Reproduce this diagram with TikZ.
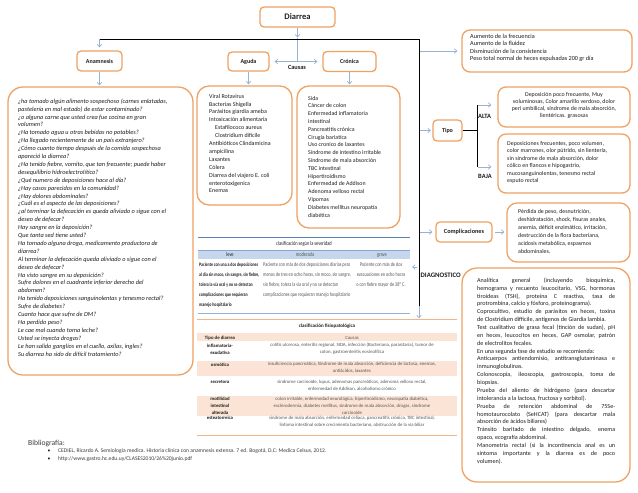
\documentclass[tikz,border=0pt]{standalone}
\usepackage{fontspec}
\setmainfont{Carlito}
\newfontfamily\narrowfont[FakeStretch=0.76]{Carlito}
\usetikzlibrary{arrows.meta,calc}
\definecolor{boxor}{RGB}{238,162,100}
\definecolor{garr}{RGB}{150,178,212}
\definecolor{txt}{RGB}{30,30,30}
\definecolor{tblblue}{RGB}{84,130,185}
\definecolor{tblhead}{RGB}{198,214,236}
\definecolor{peach}{RGB}{251,228,213}
\definecolor{tblor}{RGB}{244,178,134}
\definecolor{grtxt}{RGB}{85,85,85}
\definecolor{bibc}{RGB}{60,60,60}
\newcommand\jl[1]{\makebox[138pt][s]{#1}}
\tikzset{
  obox/.style={draw=boxor, line width=1.3pt, rounded corners=4pt, fill=white, inner sep=0pt},
  rbox/.style={draw=boxor, line width=1.3pt, rounded corners=#1, fill=white, inner sep=0pt},
  garrow/.style={draw=garr, line width=0.7pt, -{Straight Barb[length=2.5pt,width=4.5pt]}},
  gline/.style={draw=garr, line width=0.7pt},
  blk/.style={draw=black, line width=0.8pt},
  lbl/.style={font=\fontsize{6}{7}\selectfont\bfseries},
  body/.style={anchor=north west, align=left, font=\fontsize{6}{7.9}\selectfont},
  sevtxt/.style={anchor=north west, align=left, font=\narrowfont\fontsize{5.6}{10}\selectfont, text=grtxt},
  fistxt/.style={anchor=north, align=center, font=\fontsize{4.8}{7}\selectfont, text=grtxt},
  fistype/.style={align=center, font=\fontsize{4.8}{7}\selectfont\bfseries, text=txt},
}
\begin{document}
\begin{tikzpicture}[x=1pt,y=-1pt, every node/.style={inner sep=0pt, text=txt}]
\useasboundingbox (0,0) rectangle (638,493);
\fill[white] (0,0) rectangle (638,493);

% ---- top boxes
\node[obox, minimum width=75pt, minimum height=20pt, font=\fontsize{8.5}{10}\selectfont\bfseries] (diarrea) at (297.5,17) {Diarrea};
\node[obox, minimum width=45pt, minimum height=20pt, lbl] (anam) at (99.5,61) {Anamnesis};
\node[obox, minimum width=41pt, minimum height=19pt, lbl] (aguda) at (248.5,61.5) {Aguda};
\node[obox, minimum width=53pt, minimum height=20pt, lbl] (cronica) at (349.5,61.5) {Crónica};
\node[font=\fontsize{6.3}{7}\selectfont\bfseries, anchor=base] (causas) at (297,69) {Causas};

% ---- big boxes
\node[rbox=15pt, minimum width=185pt, minimum height=288pt] (preg) at (100.5,231) {};
\node[rbox=12pt, minimum width=95pt, minimum height=119pt] (agbox) at (244.5,145.5) {};
\node[rbox=12pt, minimum width=103pt, minimum height=142pt] (crbox) at (348.5,157) {};
\node[rbox=8pt, minimum width=170pt, minimum height=42pt] (aum) at (547,51) {};
\node[obox, minimum width=29pt, minimum height=21pt, lbl] (tipo) at (447.5,130.5) {Tipo};
\node[rbox=8pt, minimum width=132pt, minimum height=40pt] (alta) at (564,107) {};
\node[rbox=8pt, minimum width=132pt, minimum height=59pt] (baja) at (564,163.5) {};
\node[obox, minimum width=56pt, minimum height=20pt, font=\fontsize{6.2}{7}\selectfont\bfseries] (comp) at (464,232) {Complicaciones};
\node[rbox=10pt, minimum width=123pt, minimum height=59pt] (ctxt) at (568.5,232.5) {};
\node[rbox=15pt, minimum width=168pt, minimum height=214pt] (diag) at (546,375) {};

% ---- texts inside boxes
\node[body, font=\fontsize{6.3}{7.9}\selectfont\itshape] (pregtxt) at (18,98.4) {%
¿ha tomado algún alimento sospechoso (carnes enlatadas,\\
pastelería en mal estado) de estar contaminado?\\
¿o alguna carne que usted crea fue cocina en gran\\
volumen?\\
¿Ha tomado agua u otras bebidas no potables?\\
¿Ha llegado recientemente de un país extranjero?\\
¿Cómo cuanto tiempo después de la comida sospechosa\\
apareció la diarrea?\\
¿Ha tenido fiebre, vomito, que tan frecuente; puede haber\\
desequilibrio hidroelectrolítico?\\
¿Qué numero de deposiciones hace al día?\\
¿Hay casos parecidos en la comunidad?\\
¿Hay dolores abdominales?\\
¿Cuál es el aspecto de las deposiciones?\\
¿al terminar la defecación es queda aliviado o sigue con el\\
deseo de defecar?\\
Hay sangre en la deposición?\\
Que tanta sed tiene usted?\\
Ha tomado alguna droga, medicamento productora de\\
diarrea?\\
Al terminar la defecación queda aliviado o sigue con el\\
deseo de defecar?\\
Ha visto sangre en su deposición?\\
Sufre dolores en el cuadrante inferior derecho del\\
abdomen?\\
Ha tenido deposiciones sanguinolentas y tenesmo rectal?\\
Sufre de diabetes?\\
Cuanto hace que sufre de DM?\\
Ha perdido peso?\\
Le cae mal cuando toma leche?\\
Usted se inyecta drogas?\\
Le han salido ganglios en el cuello, axilas, ingles?\\
Su diarrea ha sido de difícil tratamiento?};

\node[body] (agtxt) at (209,93.8) {%
Viral Rotavirus\\
Bacterias Shigella\\
Parásitos giardia ameba\\
Intoxicación alimentaria\\
\hspace*{6pt}Estafilococo aureus\\
\hspace*{6pt}Clostridium dificile\\
Antibióticos Clindamicina\\
ampicilina\\
Laxantes\\
Cólera\\
Diarrea del viajero E. coli\\
enterotoxigenica\\
Enemas};

\node[body, font=\fontsize{5.9}{7.8}\selectfont] (crtxt) at (308,95.8) {%
Sida\\
Cáncer de colon\\
Enfermedad inflamatoria\\
intestinal\\
Pancreatitis crónica\\
Cirugía bariatica\\
Uso cronico de laxantes\\
Síndrome de intestino irritable\\
Síndrome de mala absorción\\
TBC intestinal\\
Hipertiroidismo\\
Enfermedad de Addison\\
Adenoma velloso rectal\\
Vipomas\\
Diabetes mellitus neuropatía\\
diabética};

\node[body, font=\fontsize{6.2}{7.6}\selectfont] (aumtxt) at (470,33.6) {%
Aumento de la frecuencia\\
Aumento de la fluidez\\
Disminución de la consistencia\\
Peso total normal de heces expulsadas 200 gr día};

\node[anchor=north, align=center, font=\fontsize{5.9}{7.3}\selectfont] (altatxt) at (564,91.8) {%
Deposición poco frecuente, Muy\\
voluminosas, Color amarillo verdoso, dolor\\
peri umbilical, síndrome de mala absorción,\\
lientéricas. grasosas};

\node[body, font=\fontsize{5.9}{7.5}\selectfont] (bajatxt) at (507,140.8) {%
Deposiciones frecuentes, poco volumen,\\
color marrones, olor pútrido, sin lientería,\\
sin síndrome de mala absorción, dolor\\
cólico en flancos e hipogastrio,\\
mucosanguinolentas, tenesmo rectal\\
esputo rectal};

\node[body, font=\fontsize{5.9}{8}\selectfont] (comptxt) at (518,208.8) {%
Pérdida de peso, desnutrición,\\
deshidratación, shock, fisuras anales,\\
anemia, déficit enzimático, irritación,\\
destrucción de la flora bacteriana,\\
acidosis metabólica, espasmos\\
abdominales.};

\node[body, font=\fontsize{6.1}{7.87}\selectfont] (diagtxt) at (477,277.6) {%
\jl{Analítica general (incluyendo bioquímica,}\\
\jl{hemograma y recuento leucocitario, VSG, hormonas}\\
\jl{tiroideas (TSH), proteína C reactiva, tasa de}\\
protrombina, calcio y fósforo, proteinograma).\\
\jl{Coprocultivo, estudio de parásitos en heces, toxina}\\
de Clostridium difficile, antígenos de Giardia lambia.\\
\jl{Test cualitativo de grasa fecal (tinción de sudan), pH}\\
\jl{en heces, leucocitos en heces, GAP osmolar, patrón}\\
de electrolitos fecales.\\
En una segunda fase de estudio se recomienda:\\
\jl{Anticuerpos antiendomisio, antitransglutaminasa e}\\
inmunoglobulinas.\\
\jl{Colonoscopia, ileoscopia, gastroscopia, toma de}\\
biopsias.\\
\jl{Prueba del aliento de hidrógeno (para descartar}\\
intolerancia a la lactosa, fructosa y sorbitol).\\
\jl{Prueba de retención abdominal de 75Se-}\\
\jl{homotaurocolato (SeHCAT) (para descartar mala}\\
absorción de ácidos biliares)\\
\jl{Tránsito baritado de intestino delgado, enema}\\
opaco, ecografía abdominal.\\
\jl{Manometría rectal (si la incontinencia anal es un}\\
\jl{síntoma importante y la diarrea es de poco}\\
volumen).};

% ---- labels
\node[font=\fontsize{6.5}{7}\selectfont\bfseries, anchor=base west] (altalbl) at (478,118) {ALTA};
\node[font=\fontsize{6.5}{7}\selectfont\bfseries, anchor=base west] (bajalbl) at (478,178) {BAJA};
\node[font=\fontsize{6.8}{7}\selectfont\bfseries, anchor=base west] (diaglbl) at (420.5,277) {DIAGNOSTICO};

% ---- severity table
\node[minimum width=212pt, minimum height=75pt] (sev) at (304,275.5) {};
\fill[tblhead] (198,250) rectangle (410,259);
\draw[tblblue, line width=0.8pt] (sev.north west) -- (sev.north east);
\draw[tblblue!70, line width=0.5pt] (198,250) -- (410,250);
\draw[garr, line width=0.8pt] (sev.south west) -- (sev.south east);
\node[font=\narrowfont\fontsize{5.8}{7}\selectfont, text=txt] (sevtitle) at (304,244.3) {clasificación según la severidad};
\node[font=\narrowfont\fontsize{5.8}{7}\selectfont, anchor=base] (hleve) at (230,256.5) {leve};
\node[font=\narrowfont\fontsize{5.8}{7}\selectfont, anchor=base, text=grtxt] (hmod) at (305,256.5) {moderada};
\node[font=\narrowfont\fontsize{5.8}{7}\selectfont, anchor=base, text=grtxt] (hgrave) at (382,256.5) {grave};
\node[sevtxt, font=\narrowfont\bfseries\fontsize{5.15}{10}\selectfont, text=txt] (sleve) at (199,262.3) {%
Paciente con una a dos deposiciones\\
al día sin moco, sin sangre, sin fiebre,\\
tolera la vía oral y no se detectan\\
complicaciones que requieran\\
manejo hospitalario};
\node[sevtxt] (smod) at (263,262) {%
Paciente con más de dos deposiciones diarias pero\\
menos de tres en ocho horas, sin moco, sin sangre,\\
sin fiebre, tolera la vía oral y no se detectan\\
complicaciones que requieran manejo hospitalario};
\node[sevtxt, anchor=north, align=center] (sgrave) at (381,262) {%
Paciente con más de dos\\
evacuaciones en ocho horas\\
o con fiebre mayor de 38º C.};

% ---- physiopathology table
\node[minimum width=260pt, minimum height=115pt] (fis) at (327,377.5) {};
\fill[peach] (197,333) rectangle (457,341);
\fill[peach] (197,360.5) rectangle (457,376);
\fill[peach] (197,395.5) rectangle (457,416);
\draw[tblor, line width=0.8pt] (fis.north west) -- (fis.north east);
\draw[tblor, line width=0.8pt] (fis.south west) -- (fis.south east);
\node[font=\fontsize{5}{6}\selectfont\bfseries, anchor=base] (fistitle) at (327,327) {clasificación fisiopatológica};
\node[fistype, anchor=base] (ftipo) at (220,339) {Tipo de diarrea};
\node[fistxt, anchor=base] (fcausas) at (352,339) {Causas};

\node[fistype, anchor=north] (t1) at (220,343.5) {inflamatoria-\\exudativa};
\node[fistxt] (c1) at (352,342.5) {colitis ulcerosa, enteritis regional, SIDA, infección (Bacteriana, parasitaria), tumor de\\colon, gastroenteritis eosinofílica};
\node[fistype, anchor=base] (t2) at (220,366) {osmótica};
\node[fistxt] (c2) at (352,361.5) {insuficiencia pancreática, Síndrome de mala absorción, deficiencia de lactosa, enemas,\\antiácidos, laxantes};
\node[fistype, anchor=base] (t3) at (220,383) {secretora};
\node[fistxt] (c3) at (352,379.5) {síndrome carcinoide, lupus, adenomas pancreáticos, adenoma velloso rectal,\\enfermedad de Addison, alcoholismo crónico};
\node[fistype, anchor=north] (t4) at (220,396.5) {motilidad\\intestinal\\alterada};
\node[fistxt] (c4) at (352,396.5) {colon irritable, enfermedad neurológica, hipertiroidismo, neuropatía diabética,\\esclerodermia, diabetes mellitus, síndrome de mala absorción, drogas, síndrome\\carcinoide};
\node[fistype, anchor=base] (t5) at (220,419.5) {esteatorreica};
\node[fistxt] (c5) at (352,416) {síndrome de mala absorción, enfermedad celíaca, pancreatitis crónica, TBC intestinal,\\linfoma intestinal sobre crecimiento bacteriano, obstrucción de la vía biliar};

% ---- bibliography
\node[font=\fontsize{7.6}{9}\selectfont, text=bibc, anchor=base west] (biblio) at (28,445) {Bibliografía:};
\node[font=\fontsize{5.6}{7}\selectfont, anchor=base] (bul1) at (49,452.7) {\textbullet};
\node[font=\fontsize{5.6}{7}\selectfont, anchor=base] (bul2) at (49,460) {\textbullet};
\node[font=\fontsize{5.6}{7}\selectfont, text=bibc, anchor=base west] (ref1) at (58,452.7) {CEDIEL, Ricardo A. Semiología medica. Historia clínica con anamnesis extensa. 7 ed. Bogotá, D.C: Medica Celsus, 2012.};
\node[font=\fontsize{5.6}{7}\selectfont, text=bibc, anchor=base west] (ref2) at (58,460) {http://www.gastro.hc.edu.uy/CLASES2010/26\%20junio.pdf};

% ---- connectors
\coordinate (jTop) at (297.5,37.5);
\coordinate (jC) at (297.5,61.5);
\coordinate (jL) at (99.5,39);
\coordinate (jR) at (419,39);
\coordinate (jB) at (419,306);
\coordinate (jS) at (417,267);
\coordinate (jT) at (477,130.5);
\coordinate (jTa) at (477,105);
\coordinate (jTb) at (477,167);

\draw[garrow] (diarrea.south) -- (jTop);
\draw[gline] (jTop) -- (jC);
\draw[garrow, shorten >=5pt] (jC) -- (aguda.east);
\draw[garrow, shorten >=5pt] (jC) -- (cronica.west);
\draw[blk] (jL) -- (jR) -- (jB);
\draw[garrow, shorten >=3pt] (jL) -- (anam.north);
\draw[garrow, shorten >=1pt] (anam.south) -- (anam.south |- preg.north);
\draw[garrow, shorten >=1pt] (aguda.south) -- (aguda.south |- agbox.north);
\draw[garrow, shorten >=1pt] (cronica.south) -- (cronica.south |- crbox.north);
\draw[garrow, shorten >=4pt, shorten <=1pt] (jR |- aum.west) -- (aum.west);
\draw[garrow, shorten >=1.5pt, shorten <=1pt] (jR |- tipo.west) -- (tipo.west);
\draw[garrow, shorten >=3pt, shorten <=1pt] (jR |- comp.west) -- (comp.west);
\draw[garrow, shorten >=2pt] (jS) -- (jS -| sev.east);
\draw[garrow, shorten >=1.5pt] (jB) -- (jB |- fis.north);
\draw[blk] (tipo.east) -- (jT);
\draw[blk] (jTa) -- (jTb);
\draw[garrow, shorten >=6pt, shorten <=1pt] (jTa) -- (jTa -| alta.west);
\draw[garrow, shorten >=6pt, shorten <=1pt] (jTb) -- (jTb -| baja.west);
\draw[garrow, shorten <=2pt, shorten >=2pt] (comp.east) -- (comp.east -| ctxt.west);
\end{tikzpicture}
\end{document}
